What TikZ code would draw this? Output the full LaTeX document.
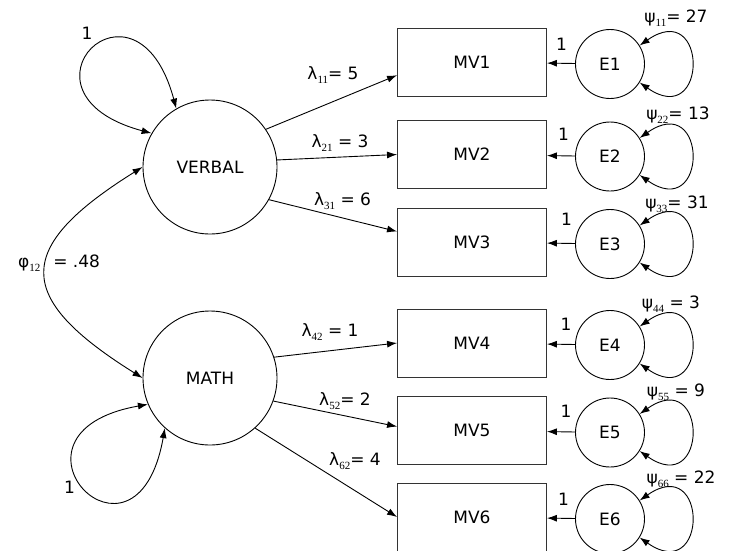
\documentclass[tikz,border=0pt]{standalone}
\usepackage{fontspec}
\setmainfont{DejaVu Sans}
\newfontfamily\subfont{Liberation Serif}
\usepackage{tikz}
\usetikzlibrary{positioning, arrows.meta}
\newcommand{\sbs}[1]{\raisebox{-4pt}{\subfont\fontsize{11}{11}\selectfont #1}}

\begin{document}
\begin{tikzpicture}
    [
        x=1pt, y=-1pt, on grid, >={Latex[length=10pt, width=7pt]},
        every node/.style={font=\fontsize{17}{20}\selectfont},
        latent_node/.style={circle, draw=black, line width=0.9pt, minimum size=134pt, inner sep=0pt},
        manifest_node/.style={rectangle, draw=black!80, line width=0.9pt, minimum width=149pt, minimum height=68pt, inner sep=0pt},
        error_node/.style={circle, draw=black, line width=0.9pt, minimum size=69pt, inner sep=0pt, yshift=-2pt},
        path_line/.style={->, line width=0.9pt, color=black},
        cov_line/.style={<->, line width=0.9pt, color=black},
        coef_label/.style={inner sep=0pt},
    ]
        \useasboundingbox (0,0) rectangle (729,550) ;
        \clip (0,0) rectangle (729,550) ;
        % latent factors
        \node[latent_node] (verbal) at (210,167) {VERBAL} ;
        \node[latent_node] (math) [below=211pt of verbal] {MATH} ;
        % manifest variables
        \node[manifest_node] (mv1) at (472,62) {MV1} ;
        \node[manifest_node] (mv2) [below=92.5pt of mv1] {MV2} ;
        \node[manifest_node] (mv3) [below=87.5pt of mv2] {MV3} ;
        \node[manifest_node] (mv4) [below=101pt of mv3] {MV4} ;
        \node[manifest_node] (mv5) [below=87.5pt of mv4] {MV5} ;
        \node[manifest_node] (mv6) [below=86.5pt of mv5] {MV6} ;
        % errors
        \foreach \i in {1,...,6}
            \node[error_node] (e\i) [right=138pt of mv\i] {E\i} ;
        % loadings
        \draw[path_line] (verbal.34) to (mv1.190) ;
        \draw[path_line] (verbal.6) to (mv2.west) ;
        \draw[path_line] (verbal.331) to (mv3.172) ;
        \draw[path_line] (math.18) to (mv4.west) ;
        \draw[path_line] (math.340) to (mv5.177) ;
        \draw[path_line] (math.312) to (mv6.west) ;
        \foreach \i in {1,...,6}
            \draw[path_line] (e\i) to (mv\i) ;
        % variances and covariance
        \draw[cov_line] (verbal.150) to[out=165, in=105, distance=155pt] (verbal.120) ;
        \draw[cov_line] (math.203) to[out=190, in=260, distance=165pt] (math.228) ;
        \draw[cov_line] (verbal.west) to[out=212, in=148, looseness=1.85] (math.west) ;
        \foreach \i in {1,...,6}
            \draw[cov_line] (e\i.32) to[out=35, in=-35, distance=84pt] (e\i.-32) ;
        % labels
        \node[coef_label] (v_one) at (87,33.5) {1} ;
        \node[coef_label] (m_one) at (69.5,487) {1} ;
        \node[coef_label] (phi) at (59,263) {φ\sbs{12}\hspace{13pt}= .48} ;
        \node[coef_label] (l11) at (333,75) {λ\sbs{11}= 5} ;
        \node[coef_label] (l21) at (340,143) {λ\sbs{21} = 3} ;
        \node[coef_label] (l31) at (342.5,201) {λ\sbs{31} = 6} ;
        \node[coef_label] (l42) at (330,332) {λ\sbs{42} = 1} ;
        \node[coef_label] (l52) at (345,401) {λ\sbs{52}= 2} ;
        \node[coef_label] (l62) at (355,461) {λ\sbs{62}= 4} ;
        \node[coef_label] (o1) at (561.5,44) {1} ;
        \node[coef_label] (o2) at (563.5,134) {1} ;
        \node[coef_label] (o3) at (566.5,219.5) {1} ;
        \node[coef_label] (o4) at (566,324) {1} ;
        \node[coef_label] (o5) at (566,411) {1} ;
        \node[coef_label] (o6) at (563.5,499) {1} ;
        \node[coef_label] (p11) at (676,18) {ψ\sbs{11}= 27} ;
        \node[coef_label] (p22) at (678,115) {ψ\sbs{22}= 13} ;
        \node[coef_label] (p33) at (677,204) {ψ\sbs{33}= 31} ;
        \node[coef_label] (p44) at (671,304) {ψ\sbs{44} = 3} ;
        \node[coef_label] (p55) at (676,392) {ψ\sbs{55} = 9} ;
        \node[coef_label] (p66) at (681,479) {ψ\sbs{66} = 22} ;
    \end{tikzpicture}
\end{document}
